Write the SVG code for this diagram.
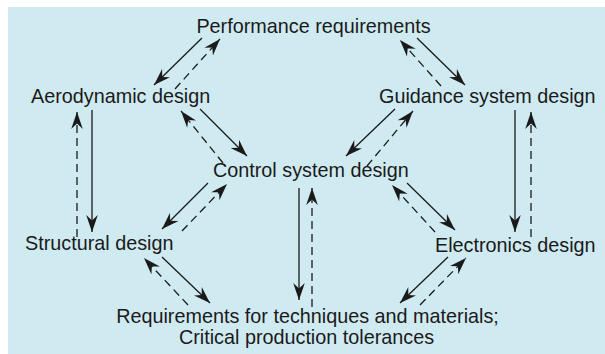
<svg xmlns="http://www.w3.org/2000/svg" width="605" height="354" viewBox="0 0 605 354">
<defs>
<style>
.t{font-family:"Liberation Sans",Arial,sans-serif;font-size:19.8px;fill:#1a1a1a}
.s{stroke:#1a1a1a;stroke-width:1.3;fill:none;marker-end:url(#ah)}
.d{stroke:#1a1a1a;stroke-width:1.3;fill:none;stroke-dasharray:8 5;marker-end:url(#ah)}
</style>
<marker id="ah" viewBox="-17 -6 18 12" refX="0" refY="0" markerWidth="18" markerHeight="12" markerUnits="userSpaceOnUse" orient="auto">
<path d="M0,0 L-17,-5.8 L-11.5,0 L-17,5.8 Z" fill="#1a1a1a"/>
</marker>
</defs>
<rect width="605" height="354" fill="#ffffff"/>
<rect x="8" y="7" width="597" height="347" fill="#d0eaf1"/>
<g id="connectors">
<line class="s" x1="202" y1="38" x2="154" y2="85"/>
<line class="d" x1="175" y1="89" x2="220" y2="39"/>
<line class="s" x1="417" y1="38" x2="465" y2="85"/>
<line class="d" x1="441" y1="86" x2="400" y2="40"/>
<line class="s" x1="200" y1="109" x2="247" y2="156"/>
<line class="d" x1="223" y1="163" x2="181" y2="111"/>
<line class="s" x1="395" y1="109" x2="346" y2="156"/>
<line class="d" x1="367" y1="166" x2="413" y2="111"/>
<line class="s" x1="92" y1="110" x2="92" y2="232"/>
<line class="d" x1="77" y1="237" x2="77" y2="112"/>
<line class="s" x1="515" y1="110" x2="515" y2="232"/>
<line class="d" x1="531" y1="237" x2="531" y2="112"/>
<line class="s" x1="299" y1="188" x2="299" y2="300"/>
<line class="d" x1="312" y1="307" x2="312" y2="188"/>
<line class="s" x1="208" y1="183" x2="162" y2="229"/>
<line class="d" x1="182" y1="231" x2="227" y2="184"/>
<line class="s" x1="162" y1="257" x2="210" y2="303"/>
<line class="d" x1="188" y1="305" x2="144" y2="258"/>
<line class="s" x1="407" y1="183" x2="455" y2="230"/>
<line class="d" x1="435" y1="232" x2="392" y2="185"/>
<line class="s" x1="448" y1="257" x2="400" y2="303"/>
<line class="d" x1="420" y1="305" x2="466" y2="258"/>
</g>
<g id="performance"><text class="t" x="313.5" y="33" text-anchor="middle">Performance requirements</text></g>
<g id="aerodynamic"><text class="t" x="31" y="103">Aerodynamic design</text></g>
<g id="guidance"><text class="t" x="379" y="103">Guidance system design</text></g>
<g id="control"><text class="t" x="213" y="177">Control system design</text></g>
<g id="structural"><text class="t" x="25" y="250">Structural design</text></g>
<g id="electronics"><text class="t" x="435" y="252">Electronics design</text></g>
<g id="requirements"><text class="t" x="307.5" y="323" text-anchor="middle">Requirements for techniques and materials;</text><text class="t" x="306.5" y="344" text-anchor="middle">Critical production tolerances</text></g>
</svg>
